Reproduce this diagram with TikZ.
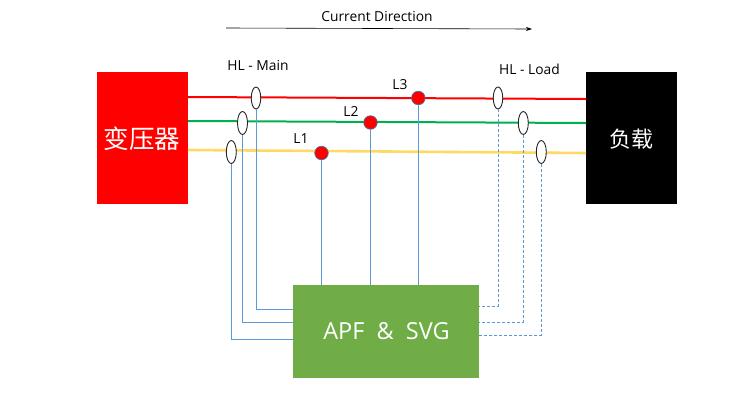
\documentclass[tikz,border=0pt]{standalone}
\usepackage{fontspec}
\setmainfont{Open Sans}
\newfontfamily\cjk{Noto Sans CJK SC}
\usetikzlibrary{arrows.meta,shapes.geometric}
\definecolor{linkblue}{HTML}{5B9BD5}
\definecolor{phaseyellow}{HTML}{FFD966}
\definecolor{phasegreen}{HTML}{00B050}
\definecolor{apfgreen}{HTML}{70AD47}
\definecolor{dotedge}{HTML}{41719C}
\tikzset{
  block/.style={draw=none,inner sep=0pt,anchor=north west},
  lab/.style={inner sep=0pt,font=\fontsize{13.8}{16}\selectfont,text=black},
  phase/.style={line width=2pt},
  ct/.style={ellipse,draw=black!85,fill=white,line width=0.9pt,inner sep=0pt,minimum width=10pt,minimum height=23pt},
  tap/.style={circle,draw=dotedge,fill=red,line width=0.7pt,inner sep=0pt,minimum size=13.5pt},
  link/.style={draw=linkblue,line width=1pt},
  dlink/.style={draw=linkblue,line width=1pt,dash pattern=on 3pt off 2pt}
}
\begin{document}
\begin{tikzpicture}[x=1pt,y=-1pt]
\useasboundingbox (0,0) rectangle (753,416);
\fill[white] (0,0) rectangle (753,416);
% boxes
\node[block,fill=red,minimum width=91pt,minimum height=132pt,text=white] (xfmr) at (97,72) {};
\node[font=\cjk\fontsize{25.5}{28}\selectfont,text=white,inner sep=0pt] (xfmrt) at (142,139) {变压器};
\node[block,fill=black,minimum width=91pt,minimum height=132pt] (load) at (586,72) {};
\node[font=\cjk\fontsize{22}{26}\selectfont,text=white,inner sep=0pt] (loadt) at (631.5,139) {负载};
\node[block,fill=apfgreen,minimum width=186pt,minimum height=93pt] (apf) at (293,285) {};
\node[font=\fontsize{23.5}{28}\selectfont,text=white,inner sep=0pt] (apft) at (386.5,331.5) {APF\ \ \&\ \ SVG};
% phase-line end points
\coordinate (ra) at (188,97); \coordinate (rb) at (586,99);
\coordinate (ga) at (188,121); \coordinate (gb) at (586,123);
\coordinate (ya) at (188,150); \coordinate (yb) at (586,153);
\draw[phase,red] (ra) -- (rb);
\draw[phase,phasegreen] (ga) -- (gb);
\draw[phase,phaseyellow,line width=2.6pt] (ya) -- (yb);
% sensors
\node[ct,minimum width=9.5pt,minimum height=22pt] (m3) at (256,98) {};
\node[ct] (m2) at (242.5,123) {};
\node[ct] (m1) at (231.3,152) {};
\node[ct,minimum width=9.5pt,minimum height=22pt] (l3) at (498,98) {};
\node[ct] (l2) at (523.3,123) {};
\node[ct] (l1) at (541.3,152) {};
\node[tap] (t1) at (321.5,153) {};
\node[tap] (t2) at (370.5,122.5) {};
\node[tap] (t3) at (418.3,98) {};
% entry points on APF box
\coordinate (e3) at (293,309); \coordinate (e2) at (293,322); \coordinate (e1) at (293,339);
\coordinate (d3) at (479,306); \coordinate (d2) at (479,322); \coordinate (d1) at (479,335);
\draw[link] (m3.south) |- (e3);
\draw[link] (m2.south) |- (e2);
\draw[link] (m1.south) |- (e1);
\draw[dlink] (l3.south) |- (d3);
\draw[dlink] (l2.south) |- (d2);
\draw[dlink] (l1.south) |- (d1);
\draw[link] (t1.south) -- (t1.south |- apf.north);
\draw[link] (t2.south) -- (t2.south |- apf.north);
\draw[link] (t3.south) -- (t3.south |- apf.north);
% labels
\node[lab] (hlm) at (258,65) {HL - Main};
\node[lab] (hll) at (529.5,69) {HL - Load};
\node[lab] (n1) at (301,139) {L1};
\node[lab] (n2) at (351,111) {L2};
\node[lab] (n3) at (400,85) {L3};
\node[lab] (cd) at (377,16) {Current Direction};
\coordinate (aa) at (226,28); \coordinate (ab) at (532,29);
\draw[-{Stealth[length=6pt,width=4pt]},line width=0.6pt] (aa) -- (ab);
\end{tikzpicture}
\end{document}
